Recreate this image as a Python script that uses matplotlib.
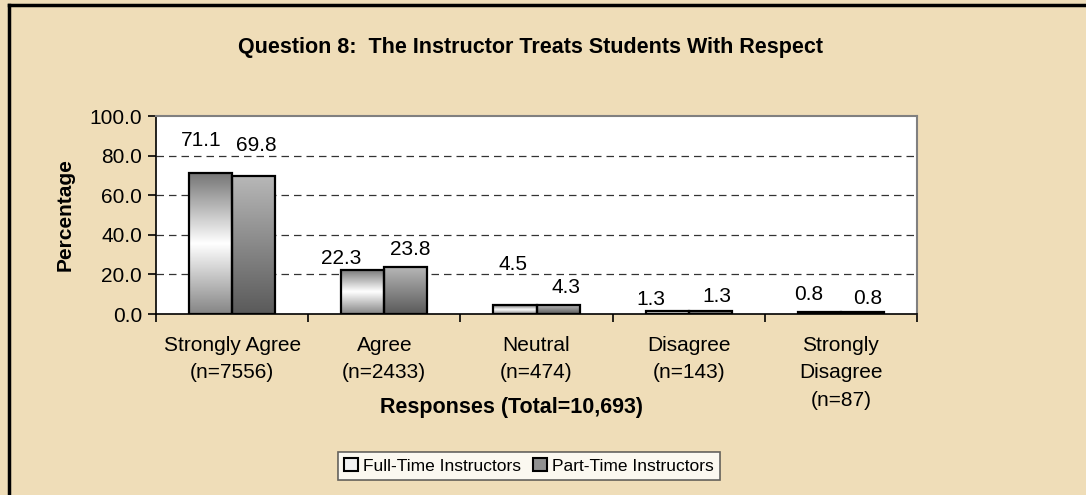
import numpy as np
import matplotlib.pyplot as plt
from matplotlib.colors import LinearSegmentedColormap
from matplotlib.lines import Line2D
from matplotlib.patches import Patch


# =========================
# DATA
# =========================

categories = [
    "Strongly Agree\n(n=7556)",
    "Agree\n(n=2433)",
    "Neutral\n(n=474)",
    "Disagree\n(n=143)",
    "Strongly\nDisagree\n(n=87)",
]

full_time = [71.1, 22.3, 4.5, 1.3, 0.8]
part_time = [69.8, 23.8, 4.3, 1.3, 0.8]

series_names = ["Full-Time Instructors", "Part-Time Instructors"]

y_ticks = [0, 20, 40, 60, 80, 100]

# label nudges in pixels (dx, dy) from bar top, as placed in the original
full_offsets = [(-9, 33), (-22, 11), (-2, 41), (-16, 12), (-11, 18)]
part_offsets = [(3, 30), (4, 17), (8, 18), (7, 15), (5, 14)]


# =========================
# STYLE
# =========================

plt.rcParams["font.family"] = ["Liberation Sans", "DejaVu Sans"]

W, H = 1086, 495
bg_color = "#EFDDB8"

full_cmap = LinearSegmentedColormap.from_list(
    "full", [(0.0, "#858585"), (0.5, "#ffffff"), (1.0, "#767676")]
)
part_cmap = LinearSegmentedColormap.from_list(
    "part", [(0.0, "#5a5a5a"), (1.0, "#b8b8b8")]
)


def gradient_bars(ax, xs, values, width, cmap):

    bars = ax.bar(
        xs, values, width,
        facecolor="none", edgecolor="black",
        linewidth=1.6, zorder=4
    )

    grad = np.linspace(0, 1, 256).reshape(-1, 1)

    for bar in bars:
        x0 = bar.get_x()
        h = bar.get_height()
        img = ax.imshow(
            grad, cmap=cmap, origin="lower", aspect="auto",
            extent=[x0, x0 + bar.get_width(), 0, h],
            interpolation="bicubic", zorder=3
        )
        img.set_clip_path(bar)

    return bars


def add_labels(ax, xs, values, offsets):

    for x, v, (dx, dy) in zip(xs, values, offsets):
        ax.annotate(
            f"{v:.1f}", (x, v),
            xytext=(dx, dy), textcoords="offset pixels",
            ha="center", va="center", fontsize=15, zorder=6
        )


# =========================
# CHART
# =========================

fig = plt.figure(figsize=(W / 100, H / 100), dpi=100)
fig.patch.set_facecolor(bg_color)

ax = fig.add_axes([
    156 / W, 1 - 314 / H,
    (917 - 156) / W, (314 - 116) / H
])
ax.set_facecolor("white")

x = np.arange(len(categories))
bar_w = 0.283

gradient_bars(ax, x - bar_w / 2, full_time, bar_w, full_cmap)
gradient_bars(ax, x + bar_w / 2, part_time, bar_w, part_cmap)

add_labels(ax, x - bar_w / 2, full_time, full_offsets)
add_labels(ax, x + bar_w / 2, part_time, part_offsets)

ax.set_xlim(-0.5, len(categories) - 0.5)
ax.set_ylim(0, 100)

ax.set_yticks(y_ticks)
ax.set_yticklabels([f"{t:.1f}" for t in y_ticks], fontsize=15)
ax.tick_params(axis="y", direction="out", length=6, width=1.2, pad=4)

ax.set_xticks(x)
ax.set_xticklabels(categories, fontsize=15, linespacing=1.55)
ax.tick_params(axis="x", which="major", length=0, pad=16)
ax.set_xticks(np.arange(len(categories) + 1) - 0.5, minor=True)
ax.tick_params(axis="x", which="minor", direction="out", length=6, width=1.2)

for t in y_ticks[1:-1]:
    ax.axhline(t, color="#333333", lw=0.9, ls=(0, (6, 4)), zorder=1)

for side in ["top", "right"]:
    ax.spines[side].set_color("#808080")
    ax.spines[side].set_linewidth(1.5)
for side in ["left", "bottom"]:
    ax.spines[side].set_color("black")
    ax.spines[side].set_linewidth(1.2)

ax.set_ylabel("Percentage", fontsize=15, fontweight="bold")
ax.yaxis.set_label_coords((75 - 156) / (917 - 156), 0.5)

fig.text(
    530 / W, 1 - 47 / H,
    "Question 8:  The Instructor Treats Students With Respect",
    ha="center", va="center", fontsize=15.5, fontweight="bold"
)

fig.text(
    511 / W, 1 - 408 / H,
    "Responses (Total=10,693)",
    ha="center", va="center", fontsize=15.5, fontweight="bold"
)

handles = [
    Patch(facecolor="#f2f2f2", edgecolor="black", linewidth=1.5),
    Patch(facecolor="#909090", edgecolor="black", linewidth=1.5),
]
leg = fig.legend(
    handles, series_names,
    loc="center", bbox_to_anchor=(529 / W, 1 - 466 / H),
    ncol=2, fontsize=12.5, frameon=True, fancybox=False,
    handlelength=0.8, handleheight=0.8, handletextpad=0.3,
    columnspacing=0.7, borderpad=0.35
)
leg.get_frame().set_edgecolor("#404040")
leg.get_frame().set_linewidth(1.2)

# outer frame (top and left edges visible)
fig.add_artist(Line2D([9 / W, 1], [1 - 5 / H, 1 - 5 / H],
                      transform=fig.transFigure, color="black", lw=2.5))
fig.add_artist(Line2D([9 / W, 9 / W], [0, 1 - 5 / H],
                      transform=fig.transFigure, color="black", lw=2.5))

fig.savefig("out.png", dpi=100, facecolor=bg_color)
